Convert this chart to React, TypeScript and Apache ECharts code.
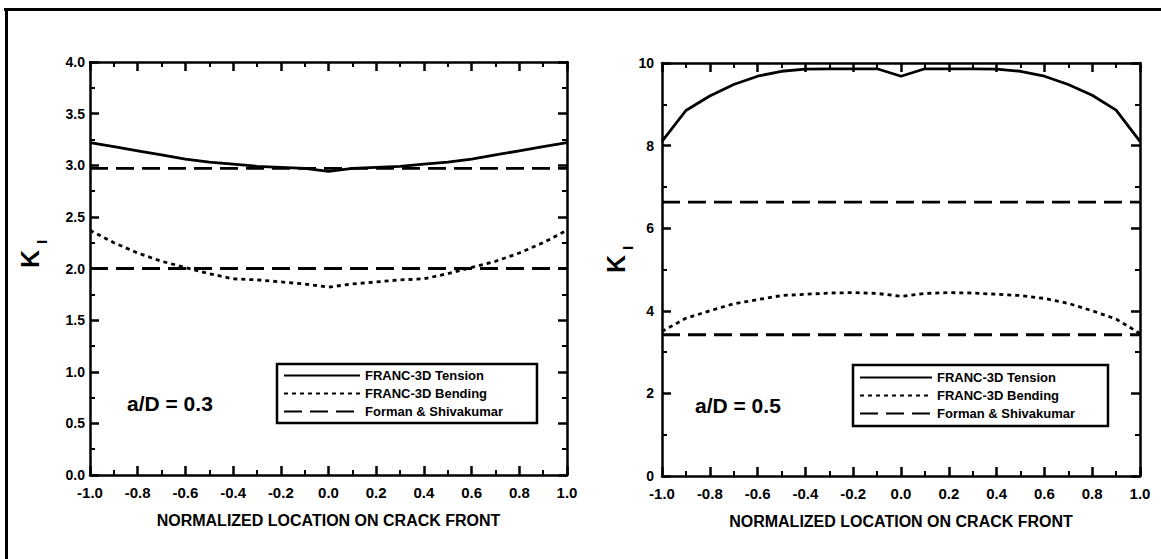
import React, { useEffect, useRef } from "react";
import * as echarts from "echarts";

const xs = [-1.0, -0.9, -0.8, -0.7, -0.6, -0.5, -0.4, -0.3, -0.2, -0.1, 0.0, 0.1, 0.2, 0.3, 0.4, 0.5, 0.6, 0.7, 0.8, 0.9, 1.0];

const leftTension = [3.22, 3.18, 3.14, 3.1, 3.06, 3.03, 3.01, 2.99, 2.98, 2.97, 2.94, 2.97, 2.98, 2.99, 3.01, 3.03, 3.06, 3.1, 3.14, 3.18, 3.22];
const leftBending = [2.37, 2.25, 2.15, 2.07, 2.01, 1.95, 1.9, 1.89, 1.87, 1.85, 1.82, 1.85, 1.87, 1.89, 1.9, 1.95, 2.01, 2.07, 2.15, 2.25, 2.37];
const leftFormanTension = 2.97;
const leftFormanBending = 2.0;

const rightTension = [8.1, 8.85, 9.2, 9.48, 9.68, 9.8, 9.85, 9.86, 9.86, 9.86, 9.68, 9.86, 9.86, 9.86, 9.85, 9.8, 9.68, 9.48, 9.22, 8.86, 8.1];
const rightBending = [3.5, 3.82, 4.0, 4.17, 4.27, 4.37, 4.4, 4.43, 4.44, 4.42, 4.35, 4.42, 4.44, 4.43, 4.4, 4.37, 4.3, 4.18, 4.0, 3.8, 3.45];
const rightFormanTension = 6.63;
const rightFormanBending = 3.42;

const xRange = [-1, 1];
const seriesNames = ["FRANC-3D Tension", "FRANC-3D Bending", "Forman & Shivakumar"];
const xTitle = "NORMALIZED LOCATION ON CRACK FRONT";
const leftNote = "a/D = 0.3";
const rightNote = "a/D = 0.5";

const FONT = "'Liberation Sans', Arial, sans-serif";

function pairs(vals: number[]) {
  return xs.map((x, i) => [x, vals[i]]);
}
function flat(v: number) {
  return [[xRange[0], v], [xRange[1], v]];
}

export default function App() {
  const ref = useRef<HTMLDivElement>(null);
  useEffect(() => {
    if (!ref.current) return;
    const chart = echarts.init(ref.current, null, { renderer: "svg" });

    const axisLine = () => ({ show: true, onZero: false, lineStyle: { color: "#000", width: 2.5 } });
    const axisTick = () => ({ show: true, inside: true, length: 9, lineStyle: { color: "#000", width: 2.5 } });
    const minorTick = () => ({ show: true, splitNumber: 2, length: 5, lineStyle: { color: "#000", width: 2 } });
    const fmt1 = (v: number) => (Math.abs(v) < 1e-9 ? "0.0" : v.toFixed(1));

    const xBottom = (gi: number) => ({
      type: "value", gridIndex: gi, position: "bottom", min: -1, max: 1, interval: 0.2,
      axisLine: axisLine(), axisTick: axisTick(), minorTick: minorTick(), splitLine: { show: false },
      axisLabel: { color: "#000", fontFamily: FONT, fontWeight: "bold", fontSize: 15, margin: 10, formatter: fmt1 },
      name: xTitle, nameLocation: "middle", nameGap: 37,
      nameTextStyle: { color: "#000", fontFamily: FONT, fontWeight: "bold", fontSize: 16 },
    });
    const xTop = (gi: number) => ({
      type: "value", gridIndex: gi, position: "top", min: -1, max: 1, interval: 0.2,
      axisLine: axisLine(), axisTick: axisTick(), minorTick: minorTick(), splitLine: { show: false }, axisLabel: { show: false },
    });
    const yLeft = (gi: number, max: number, interval: number, f: (v: number) => string, margin: number) => ({
      type: "value", gridIndex: gi, position: "left", min: 0, max, interval,
      axisLine: axisLine(), axisTick: axisTick(), minorTick: minorTick(), splitLine: { show: false },
      axisLabel: { color: "#000", fontFamily: FONT, fontWeight: "bold", fontSize: 14, margin, formatter: f },
    });
    const yRight = (gi: number, max: number, interval: number) => ({
      type: "value", gridIndex: gi, position: "right", min: 0, max, interval,
      axisLine: axisLine(), axisTick: axisTick(), minorTick: minorTick(), splitLine: { show: false }, axisLabel: { show: false },
    });

    const solid = { color: "#000", width: 2.8, type: "solid" };
    const dotted = { color: "#000", width: 2.8, type: [4, 4] };
    const dashed = { color: "#000", width: 2.8, type: [18, 8] };

    const mk = (name: string, data: number[][], ls: any, xi: number, yi: number) => ({
      type: "line", name, data, xAxisIndex: xi, yAxisIndex: yi, symbol: "none", showSymbol: false,
      lineStyle: ls, itemStyle: { color: "#000" }, silent: true,
    });

    const legendCommon = {
      orient: "vertical", borderColor: "#000", borderWidth: 2.5, borderRadius: 0,
      itemHeight: 10, itemGap: 5,
      itemStyle: { opacity: 0 },
      textStyle: { color: "#000", fontFamily: FONT, fontWeight: "bold", fontSize: 13 },
      data: seriesNames, selectedMode: false,
    };

    const noteStyle = { fill: "#000", fontFamily: FONT, fontWeight: "bold", fontSize: 21 };
    const kStyle = { fill: "#000", fontFamily: FONT, fontWeight: "bold", fontSize: 25, align: "center", verticalAlign: "middle" };
    const iStyle = { fill: "#000", fontFamily: FONT, fontWeight: "bold", fontSize: 15, align: "center", verticalAlign: "middle" };

    chart.setOption({
      animation: false,
      backgroundColor: "#fff",
      grid: [
        { left: 90, top: 62, width: 477, height: 413 },
        { left: 662, top: 63, width: 478, height: 413 },
      ],
      xAxis: [xBottom(0), xTop(0), xBottom(1), xTop(1)],
      yAxis: [yLeft(0, 4, 0.5, fmt1, 5), yRight(0, 4, 0.5), yLeft(1, 10, 2, (v: number) => String(v), 8), yRight(1, 10, 2)],
      legend: [
        { ...legendCommon, left: 277, top: 364, itemWidth: 76, padding: [5, 34, 5, 6] },
        { ...legendCommon, left: 853, top: 365, itemWidth: 72, padding: [6, 33, 6, 6] },
      ],
      series: [
        mk(seriesNames[0], pairs(leftTension), solid, 0, 0),
        mk(seriesNames[1], pairs(leftBending), dotted, 0, 0),
        mk(seriesNames[2], flat(leftFormanTension), dashed, 0, 0),
        mk(seriesNames[2], flat(leftFormanBending), dashed, 0, 0),
        mk(seriesNames[0], pairs(rightTension), solid, 2, 2),
        mk(seriesNames[1], pairs(rightBending), dotted, 2, 2),
        mk(seriesNames[2], flat(rightFormanTension), dashed, 2, 2),
        mk(seriesNames[2], flat(rightFormanBending), dashed, 2, 2),
      ],
      graphic: [
        { type: "line", shape: { x1: 4, y1: 9.5, x2: 1161, y2: 9.5 }, style: { stroke: "#000", lineWidth: 3 } },
        { type: "line", shape: { x1: 6.5, y1: 8, x2: 6.5, y2: 559 }, style: { stroke: "#000", lineWidth: 3 } },
        { type: "text", x: 127, y: 403, style: { ...noteStyle, text: leftNote, verticalAlign: "middle" } },
        { type: "text", x: 695, y: 405, style: { ...noteStyle, text: rightNote, verticalAlign: "middle" } },
        { type: "text", x: 30, y: 259, rotation: Math.PI / 2, style: { ...kStyle, text: "K" } },
        { type: "text", x: 41, y: 242, rotation: Math.PI / 2, style: { ...iStyle, text: "I" } },
        { type: "text", x: 616, y: 264, rotation: Math.PI / 2, style: { ...kStyle, text: "K" } },
        { type: "text", x: 627, y: 248, rotation: Math.PI / 2, style: { ...iStyle, text: "I" } },
      ],
    });
    return () => chart.dispose();
  }, []);
  return <div ref={ref} style={{ position: "fixed", left: 0, top: 0, width: 1161, height: 559 }} />;
}
